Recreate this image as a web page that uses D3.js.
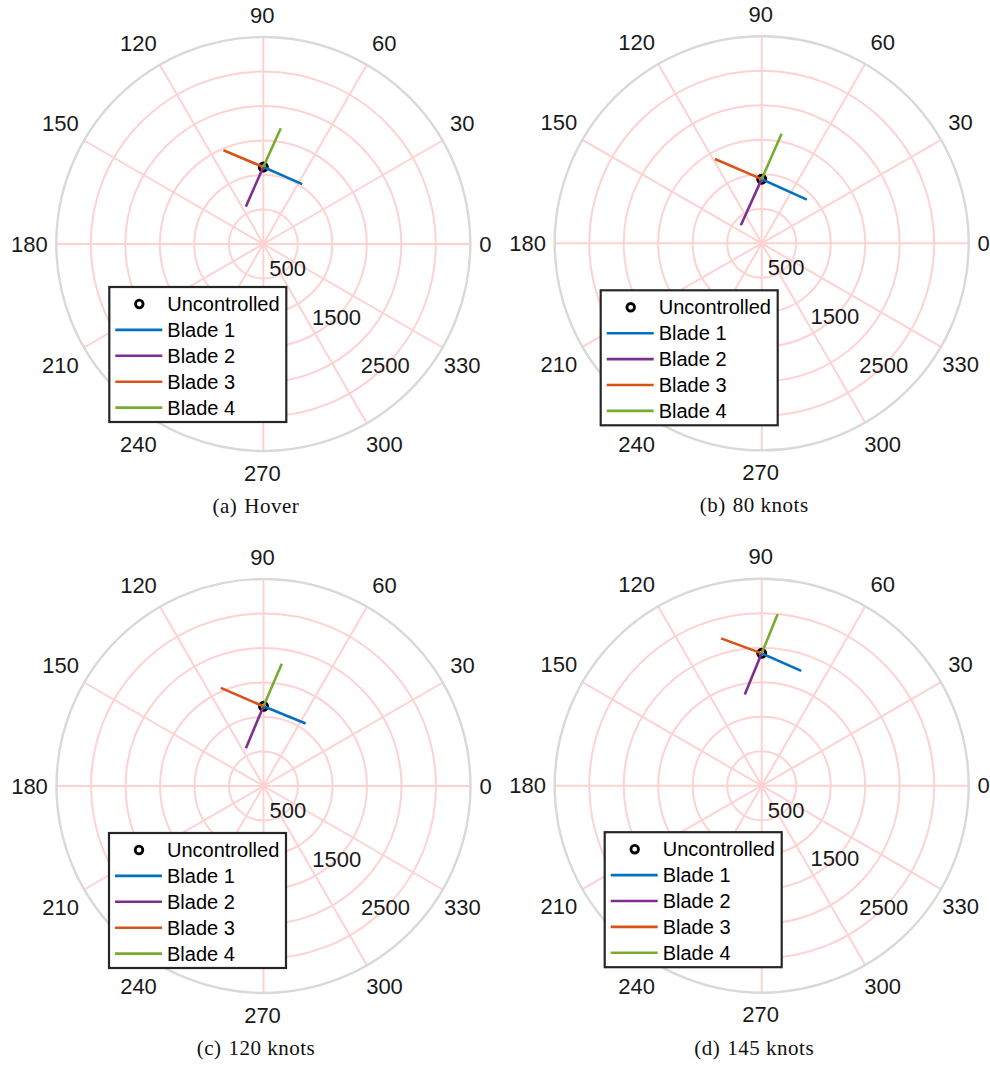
<!DOCTYPE html>
<html>
<head>
<meta charset="utf-8">
<script src="https://cdn.jsdelivr.net/npm/d3@7"></script>
<style>
  body { margin: 0; background: #fff; }
  .tick { font-family: "Liberation Sans", Arial, sans-serif; font-size: 22px; fill: #1a1a1a; }
  .leg { font-family: "Liberation Sans", Arial, sans-serif; font-size: 20px; fill: #000; }
  .cap { font-family: "Liberation Serif", "Times New Roman", serif; font-size: 21px; fill: #111; letter-spacing: 0.5px; }
</style>
</head>
<body>
<svg width="990" height="1065"></svg>
<script>
var width = 990,
    height = 1065,
    R = 207;

// panel captions
var captionTags = ["(a)", "(b)", "(c)", "(d)"];
var captionText = ["Hover", "80 knots", "120 knots", "145 knots"];

// uncontrolled point, magnitude and phase (deg)
var uncMag   = [1115, 930, 1155, 1918];
var uncPhase = [90, 90, 90, 90];

// controlled end points for each blade
var blade1Mag   = [1035, 910, 1092, 1760];
var blade1Phase = [57, 44, 56, 71];
var blade2Mag   = [598, 400, 603, 1345];
var blade2Phase = [115, 139, 115, 100.5];
var blade3Mag   = [1477, 1396, 1550, 2215];
var blade3Phase = [113, 119, 113.5, 105.4];
var blade4Mag   = [1696, 1614, 1792, 2497];
var blade4Phase = [81.4, 79.7, 81.5, 84.7];

var seriesNames  = ["Blade 1", "Blade 2", "Blade 3", "Blade 4"];
var seriesColors = ["#0072BD", "#7E2F8E", "#D95319", "#77AC30"];

var ringTicks  = [500, 1000, 1500, 2000, 2500];
var ringLabels = [500, 1500, 2500];
var angleTicks = d3.range(0, 360, 30);

// layout of the four panels
var panels = [
  {cx: 263.3, cy: 244,   lx: -154, ly: 43},
  {cx: 761.7, cy: 243.3, lx: -161, ly: 47},
  {cx: 263.5, cy: 786,   lx: -154.5, ly: 47},
  {cx: 761.7, cy: 785.7, lx: -157, ly: 46.5}
];

var mags   = [blade1Mag, blade2Mag, blade3Mag, blade4Mag],
    phases = [blade1Phase, blade2Phase, blade3Phase, blade4Phase];

var r = d3.scaleLinear().domain([0, 3000]).range([0, R]);
var rad = function(deg) { return (90 - deg) * Math.PI / 180; }; // d3 angle: clockwise from 12 o'clock

var line = d3.lineRadial()
    .angle(function(d) { return rad(d[1]); })
    .radius(function(d) { return r(d[0]); });

// where the angle labels sit (matlab puts them a bit off the circle)
function labelPos(d) {
  var t = d * Math.PI / 180,
      c = Math.cos(t), s = Math.sin(t);
  if (d % 90 === 0) return [228 * c - (d % 180 === 0 ? 6 : 1), -229 * s];
  var x = 232 * c, y = -232 * s;
  if (d % 60 === 0) x += 7 * Math.sign(c);   // 60, 120, 240, 300
  else y -= 5 * Math.sign(s);                // 30, 150, 210, 330
  return [x - 2, y];
}

var svg = d3.select("svg");
svg.append("rect").attr("width", width).attr("height", height).attr("fill", "#fff");

panels.forEach(function(p, i) {
  var g = svg.append("g").attr("transform", "translate(" + p.cx + "," + p.cy + ")");

  // spokes
  g.selectAll(".spoke")
      .data(angleTicks)
    .enter().append("line")
      .attr("x1", 0).attr("y1", 0)
      .attr("x2", function(d) { return R * Math.cos(d * Math.PI / 180); })
      .attr("y2", function(d) { return -R * Math.sin(d * Math.PI / 180); })
      .style("stroke", "#ffd2d2")
      .style("stroke-width", "2px");

  // rings
  g.selectAll(".ring")
      .data(ringTicks)
    .enter().append("circle")
      .attr("r", function(d) { return r(d); })
      .style("fill", "none")
      .style("stroke", "#ffd2d2")
      .style("stroke-width", "2px");

  g.append("circle")
      .attr("r", r(3000))
      .style("fill", "none")
      .style("stroke", "#d9d9d9")
      .style("stroke-width", "2.4px");

  // angle labels
  g.selectAll(".alab")
      .data(angleTicks)
    .enter().append("text")
      .attr("class", "tick")
      .attr("text-anchor", "middle")
      .attr("dominant-baseline", "central")
      .attr("x", function(d) { return labelPos(d)[0]; })
      .attr("y", function(d) { return labelPos(d)[1]; })
      .text(function(d) { return d; });

  // radius labels along -45 deg
  g.selectAll(".rlab")
      .data(ringLabels)
    .enter().append("text")
      .attr("class", "tick")
      .attr("text-anchor", "middle")
      .attr("dominant-baseline", "central")
      .attr("x", function(d) { return r(d) * Math.SQRT1_2; })
      .attr("y", function(d) { return r(d) * Math.SQRT1_2; })
      .text(function(d) { return d; });

  // uncontrolled marker
  var u = [uncMag[i], uncPhase[i]];
  g.append("circle")
      .attr("cx", r(u[0]) * Math.cos(u[1] * Math.PI / 180))
      .attr("cy", -r(u[0]) * Math.sin(u[1] * Math.PI / 180))
      .attr("r", 4)
      .style("fill", "none")
      .style("stroke", "#000")
      .style("stroke-width", "3px");

  // blade lines
  seriesNames.forEach(function(name, k) {
    g.append("path")
        .datum([u, [mags[k][i], phases[k][i]]])
        .attr("d", line)
        .style("fill", "none")
        .style("stroke", seriesColors[k])
        .style("stroke-width", "2.6px");
  });

  // legend
  var lg = g.append("g").attr("transform", "translate(" + p.lx + "," + p.ly + ")");
  lg.append("rect")
      .attr("width", 177).attr("height", 135)
      .style("fill", "#fff")
      .style("stroke", "#262626")
      .style("stroke-width", "2.2px");
  var rowY = function(j) { return 17 + j * 25.9; };
  lg.append("circle")
      .attr("cx", 30).attr("cy", rowY(0))
      .attr("r", 3.8)
      .style("fill", "none").style("stroke", "#000").style("stroke-width", "2.8px");
  lg.append("text").attr("class", "leg")
      .attr("x", 58).attr("y", rowY(0)).attr("dominant-baseline", "central")
      .text("Uncontrolled");
  seriesNames.forEach(function(name, k) {
    lg.append("line")
        .attr("x1", 6).attr("x2", 53)
        .attr("y1", rowY(k + 1)).attr("y2", rowY(k + 1))
        .style("stroke", seriesColors[k]).style("stroke-width", "2.6px");
    lg.append("text").attr("class", "leg")
        .attr("x", 58).attr("y", rowY(k + 1)).attr("dominant-baseline", "central")
        .text(name);
  });

  // caption
  var cap = g.append("text").attr("class", "cap")
      .attr("x", -7.5).attr("y", 269)
      .attr("text-anchor", "middle");
  cap.append("tspan").text(captionTags[i]);
  cap.append("tspan").attr("dx", 7).text(captionText[i]);
});
</script>
</body>
</html>
